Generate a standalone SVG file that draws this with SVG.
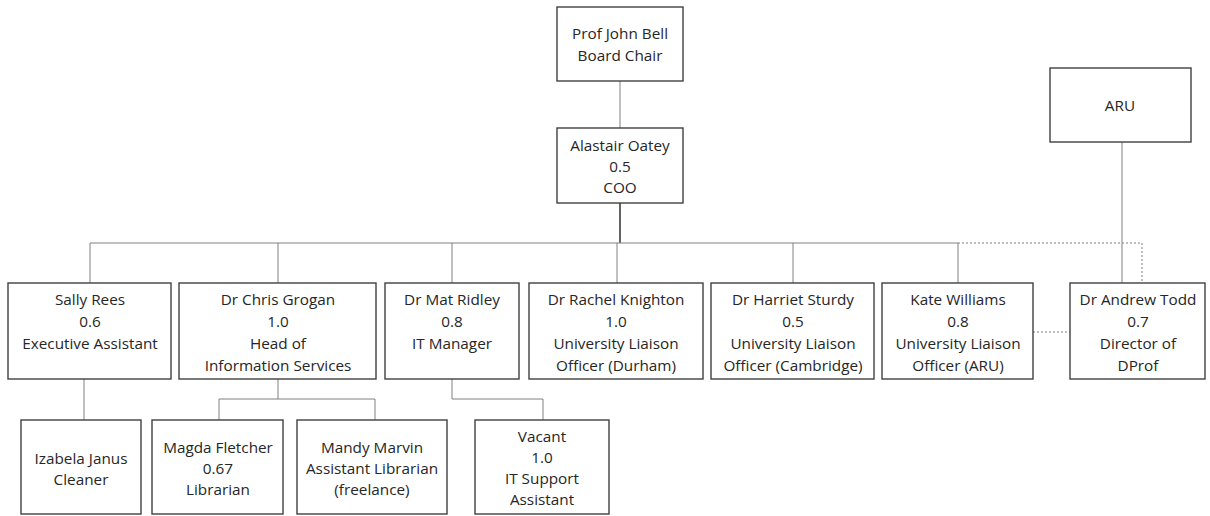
<svg xmlns="http://www.w3.org/2000/svg" width="1210" height="516" viewBox="0 0 1210 516">
<style>
.b{fill:#fff;stroke:#404040;stroke-width:1.4}
.t{font-family:"Open Sans","Noto Sans","Liberation Sans",sans-serif;font-size:15.3px;fill:#262626;text-anchor:middle}
.c{fill:none;stroke:#808080;stroke-width:1}
.d{fill:none;stroke:#808080;stroke-width:1;stroke-dasharray:2,2}
</style>
<rect width="1210" height="516" fill="#fff"/>
<g id="connectors">
<line class="c" x1="620" y1="81" x2="620" y2="128"/>
<line x1="620" y1="203" x2="620" y2="243" stroke="#303030" stroke-width="1.5"/>
<polyline class="c" points="90,283 90,243 958,243 958,283"/>
<line class="c" x1="278" y1="243" x2="278" y2="283"/>
<line class="c" x1="452" y1="243" x2="452" y2="283"/>
<line class="c" x1="617" y1="243" x2="617" y2="283"/>
<line class="c" x1="793" y1="243" x2="793" y2="283"/>
<polyline class="d" points="958,243 1142,243 1142,283"/>
<line class="c" x1="1122" y1="142" x2="1122" y2="283"/>
<line class="d" x1="1033" y1="332" x2="1070" y2="332"/>
<line class="c" x1="84" y1="379" x2="84" y2="420"/>
<polyline class="c" points="278,379 278,399"/>
<polyline class="c" points="219,420 219,399 375,399 375,420"/>
<polyline class="c" points="452,379 452,399 543,399 543,420"/>
</g>
<g id="bell"><rect class="b" x="557" y="7" width="126" height="74"/>
<text class="t" x="620" y="39">Prof John Bell</text><text class="t" x="620" y="61">Board Chair</text></g>
<g id="oatey"><rect class="b" x="557" y="128" width="126" height="75"/>
<text class="t" x="620" y="151">Alastair Oatey</text><text class="t" x="620" y="172">0.5</text><text class="t" x="620" y="193">COO</text></g>
<g id="aru"><rect class="b" x="1050" y="68" width="141" height="74"/>
<text class="t" x="1120" y="111">ARU</text></g>
<g id="rees"><rect class="b" x="8" y="283" width="163" height="96"/>
<text class="t" x="90" y="305">Sally Rees</text><text class="t" x="90" y="327">0.6</text><text class="t" x="90" y="349">Executive Assistant</text></g>
<g id="grogan"><rect class="b" x="179" y="283" width="197" height="96"/>
<text class="t" x="278" y="305">Dr Chris Grogan</text><text class="t" x="278" y="327">1.0</text><text class="t" x="278" y="349">Head of</text><text class="t" x="278" y="371">Information Services</text></g>
<g id="ridley"><rect class="b" x="385" y="283" width="134" height="96"/>
<text class="t" x="452" y="305">Dr Mat Ridley</text><text class="t" x="452" y="327">0.8</text><text class="t" x="452" y="349">IT Manager</text></g>
<g id="knighton"><rect class="b" x="529" y="283" width="174" height="96"/>
<text class="t" x="616" y="305">Dr Rachel Knighton</text><text class="t" x="616" y="327">1.0</text><text class="t" x="616" y="349">University Liaison</text><text class="t" x="616" y="371">Officer (Durham)</text></g>
<g id="sturdy"><rect class="b" x="711" y="283" width="163" height="96"/>
<text class="t" x="793" y="305">Dr Harriet Sturdy</text><text class="t" x="793" y="327">0.5</text><text class="t" x="793" y="349">University Liaison</text><text class="t" x="793" y="371">Officer (Cambridge)</text></g>
<g id="williams"><rect class="b" x="882" y="283" width="151" height="96"/>
<text class="t" x="958" y="305">Kate Williams</text><text class="t" x="958" y="327">0.8</text><text class="t" x="958" y="349">University Liaison</text><text class="t" x="958" y="371">Officer (ARU)</text></g>
<g id="todd"><rect class="b" x="1070" y="283" width="135" height="96"/>
<text class="t" x="1138" y="305">Dr Andrew Todd</text><text class="t" x="1138" y="327">0.7</text><text class="t" x="1138" y="349">Director of</text><text class="t" x="1138" y="371">DProf</text></g>
<g id="janus"><rect class="b" x="21" y="420" width="120" height="94"/>
<text class="t" x="81" y="464">Izabela Janus</text><text class="t" x="81" y="485">Cleaner</text></g>
<g id="fletcher"><rect class="b" x="152" y="420" width="131" height="94"/>
<text class="t" x="218" y="453">Magda Fletcher</text><text class="t" x="218" y="474">0.67</text><text class="t" x="218" y="495">Librarian</text></g>
<g id="marvin"><rect class="b" x="297" y="420" width="150" height="94"/>
<text class="t" x="372" y="453">Mandy Marvin</text><text class="t" x="372" y="474">Assistant Librarian</text><text class="t" x="372" y="495">(freelance)</text></g>
<g id="vacant"><rect class="b" x="475" y="420" width="134" height="94"/>
<text class="t" x="542" y="442">Vacant</text><text class="t" x="542" y="463">1.0</text><text class="t" x="542" y="484">IT Support</text><text class="t" x="542" y="505">Assistant</text></g>
</svg>
